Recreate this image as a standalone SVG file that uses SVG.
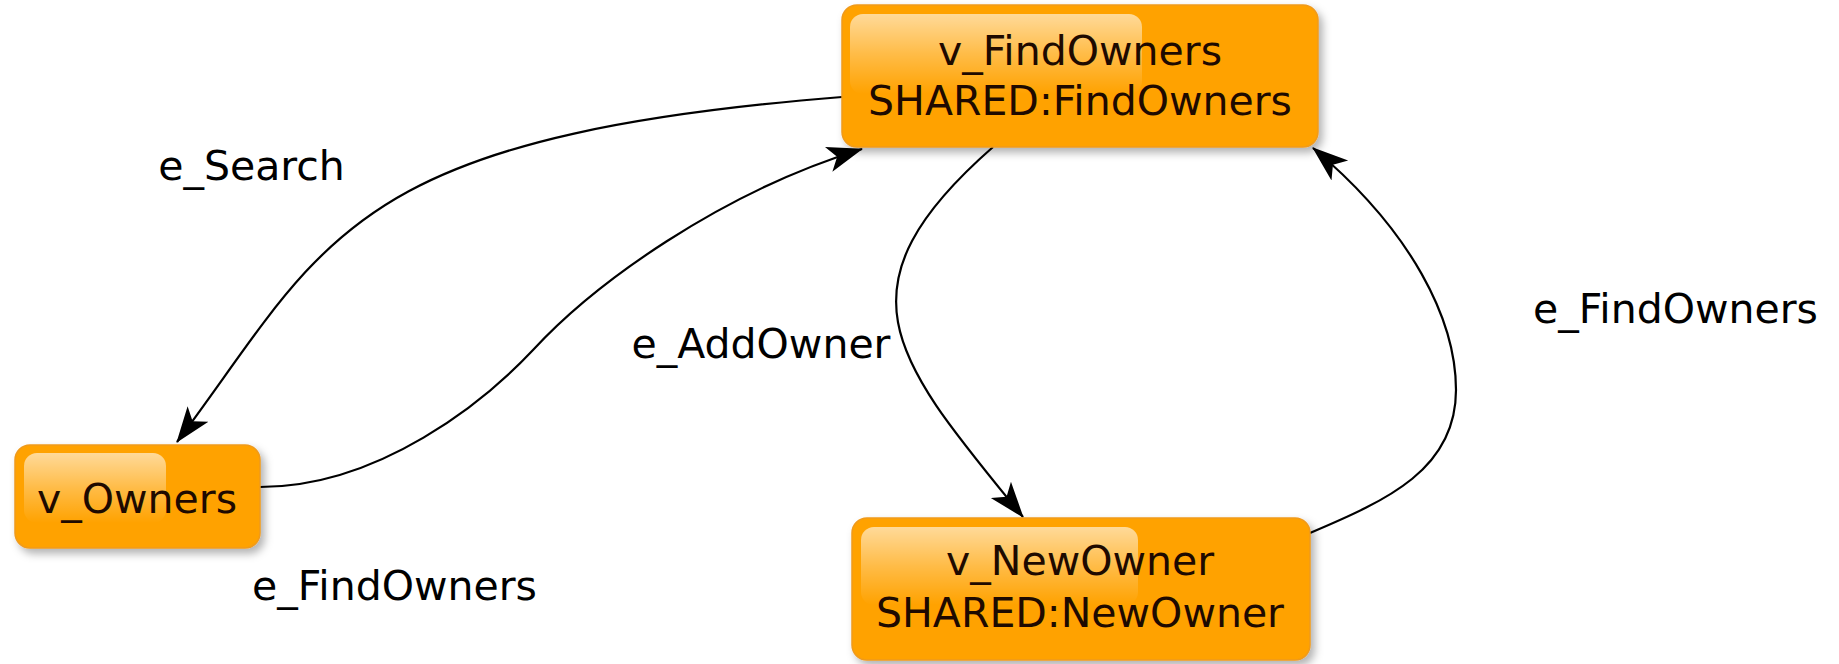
<svg xmlns="http://www.w3.org/2000/svg" width="1839" height="664" viewBox="0 0 1839 664">
  <style>
    .node { fill: #ffa202; stroke: #ef9a1c; stroke-width: 1.5; }
    .gloss { fill: url(#glossGrad); }
    .ntext { font-family: "DejaVu Sans", "Liberation Sans", sans-serif; font-size: 41px; fill: #1e0a00; text-anchor: middle; }
    .elabel { font-family: "DejaVu Sans", "Liberation Sans", sans-serif; font-size: 41px; fill: #000; text-anchor: middle; }
    .edge { fill: none; stroke: #000; stroke-width: 2.2; marker-end: url(#arrow); }
  </style>
  <defs>
    <linearGradient id="glossGrad" x1="0" y1="0" x2="0" y2="1">
      <stop offset="0" stop-color="#ffffff" stop-opacity="0.6"/>
      <stop offset="0.5" stop-color="#ffffff" stop-opacity="0.28"/>
      <stop offset="1" stop-color="#ffffff" stop-opacity="0"/>
    </linearGradient>
    <filter id="shadow" x="-10%" y="-10%" width="125%" height="140%">
      <feDropShadow dx="4" dy="5" stdDeviation="4" flood-color="#000" flood-opacity="0.3"/>
    </filter>
    <marker id="arrow" markerUnits="userSpaceOnUse" viewBox="0 0 36 28" refX="35" refY="14" markerWidth="36" markerHeight="28" orient="auto">
      <path d="M36,14 L0,1 L9,14 L0,27 Z" fill="#000"/>
    </marker>
  </defs>
  <rect width="1839" height="664" fill="#ffffff"/>

  <g id="edges">
    <path class="edge" d="M842,97 C342,137 327,242 177,442"/>
    <path class="edge" d="M260,487 C380,487 485,401 533,350 C594,284 719,193 862,149"/>
    <path class="edge" d="M993,147 C830,290 895,360 1023,517"/>
    <path class="edge" d="M1310,533 C1388,500 1456,469 1456,390 C1456,320 1412,231 1313,148"/>
  </g>

  <g id="edge-labels">
    <text class="elabel" x="251.5" y="180">e_Search</text>
    <text class="elabel" x="761" y="358">e_AddOwner</text>
    <text class="elabel" x="1675.5" y="323">e_FindOwners</text>
    <text class="elabel" x="394.5" y="600">e_FindOwners</text>
  </g>

  <g id="v_FindOwners">
    <rect class="node" x="842" y="5" width="476" height="142" rx="15" filter="url(#shadow)"/>
    <rect class="gloss" x="850" y="14" width="292" height="80" rx="13"/>
    <text class="ntext" x="1080" y="65">v_FindOwners</text>
    <text class="ntext" x="1080" y="115">SHARED:FindOwners</text>
  </g>

  <g id="v_Owners">
    <rect class="node" x="15" y="445" width="245" height="103" rx="15" filter="url(#shadow)"/>
    <rect class="gloss" x="24" y="453" width="142" height="70" rx="13"/>
    <text class="ntext" x="137" y="513">v_Owners</text>
  </g>

  <g id="v_NewOwner">
    <rect class="node" x="852" y="518" width="458" height="142" rx="15" filter="url(#shadow)"/>
    <rect class="gloss" x="861" y="527" width="277" height="78" rx="13"/>
    <text class="ntext" x="1080" y="575">v_NewOwner</text>
    <text class="ntext" x="1080" y="627">SHARED:NewOwner</text>
  </g>
</svg>
